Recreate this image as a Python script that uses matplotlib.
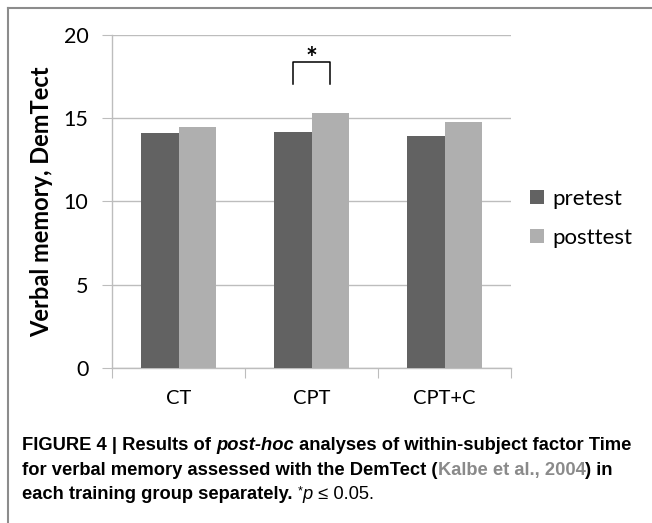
import matplotlib.pyplot as plt
from matplotlib.lines import Line2D
import numpy as np

## chart values
groups = ['CT', 'CPT', 'CPT+C']
pretest = [14.1, 14.15, 13.95]
posttest = [14.45, 15.3, 14.8]
series_names = ['pretest', 'posttest']
y_ticks = [0, 5, 10, 15, 20]

dark = '#626262'
light = '#afafaf'
grid_col = '#bdbdbd'

fig = plt.figure(figsize=(6.52, 5.23), dpi=100)
ax = fig.add_axes([0.1718, 0.2964, 0.6120, 0.6367])

x = np.arange(len(groups))
w = 0.28
ax.bar(x - w / 2, pretest, w, color=dark, label=series_names[0], zorder=3)
ax.bar(x + w / 2, posttest, w, color=light, label=series_names[1], zorder=3)

ax.set_xlim(-0.5, len(groups) - 0.5)
ax.set_ylim(0, 20)
ax.set_yticks(y_ticks)
ax.yaxis.grid(True, color=grid_col, linewidth=1.0, zorder=0)
ax.set_axisbelow(True)

for s in ['top', 'right']:
    ax.spines[s].set_visible(False)
for s in ['left', 'bottom']:
    ax.spines[s].set_color(grid_col)
    ax.spines[s].set_linewidth(1.0)

## category boundaries carry the x ticks, labels sit at the centres
ax.set_xticks(np.arange(len(groups) + 1) - 0.5)
ax.set_xticklabels([])
ax.set_xticks(x, minor=True)
ax.set_xticklabels(groups, minor=True, fontsize=14.5, family='Lato')
ax.tick_params(axis='x', which='major', length=7, color=grid_col, direction='out')
ax.tick_params(axis='x', which='minor', length=0, pad=16)
ax.tick_params(axis='y', length=7, color=grid_col, pad=10, labelsize=15.5)
for t in ax.get_yticklabels():
    t.set_family('Lato')

ax.set_ylabel('Verbal memory, DemTect', fontsize=17, fontweight='bold', family='Lato')
ax.yaxis.set_label_coords(-0.148, 0.5)

## significance bracket over CPT
b0 = x[1] - w / 2
b1 = x[1] + w / 2
ax.plot([b0, b0, b1, b1], [17.05, 18.4, 18.4, 17.05], color='black', linewidth=1.1,
        solid_joinstyle='round', zorder=4)
ax.text(x[1], 17.75, '*', ha='center', va='bottom', fontsize=20, fontweight='bold',
        family='Lato')

ax.legend(loc='center left', bbox_to_anchor=(1.048, 0.449), frameon=False,
          borderpad=0, borderaxespad=0,
          prop={'family': 'Lato', 'size': 16}, handlelength=0.6, handleheight=0.6,
          handletextpad=0.4, labelspacing=0.85)

## outer frame (left and top edge)
fig.add_artist(Line2D([8 / 652, 8 / 652], [0, 1 - 8 / 523], color='#8c8c8c', linewidth=1.5))
fig.add_artist(Line2D([8 / 652, 1], [1 - 8 / 523, 1 - 8 / 523], color='#8c8c8c', linewidth=1.5))

## caption with mixed styles, placed piece by piece
caption = [
    [('FIGURE 4 | Results of ', 'bold', 'normal', 'black'),
     ('post-hoc', 'bold', 'italic', 'black'),
     (' analyses of within-subject factor Time', 'bold', 'normal', 'black')],
    [('for verbal memory assessed with the DemTect (', 'bold', 'normal', 'black'),
     ('Kalbe et al., 2004', 'bold', 'normal', '#8a8a8a'),
     (') in', 'bold', 'normal', 'black')],
    [('each training group separately. ', 'bold', 'normal', 'black'),
     ('*', 'normal', 'normal', 'black'),
     ('p', 'normal', 'italic', 'black'),
     (' \u2264 0.05.', 'normal', 'normal', 'black')],
]
line_y = [450, 475, 499]

fig.canvas.draw()
renderer = fig.canvas.get_renderer()
for parts, yb in zip(caption, line_y):
    xpos = 22
    for txt, weight, style, col in parts:
        size = 13.2
        ypix = yb
        if txt == '*':
            size = 9
            ypix = yb - 5
        t = fig.text(xpos / 652, 1 - ypix / 523, txt, fontsize=size, fontweight=weight,
                     fontstyle=style, color=col, family='Liberation Sans',
                     ha='left', va='baseline')
        bb = t.get_window_extent(renderer=renderer)
        xpos += bb.width

fig.savefig('out.png', dpi=100)
